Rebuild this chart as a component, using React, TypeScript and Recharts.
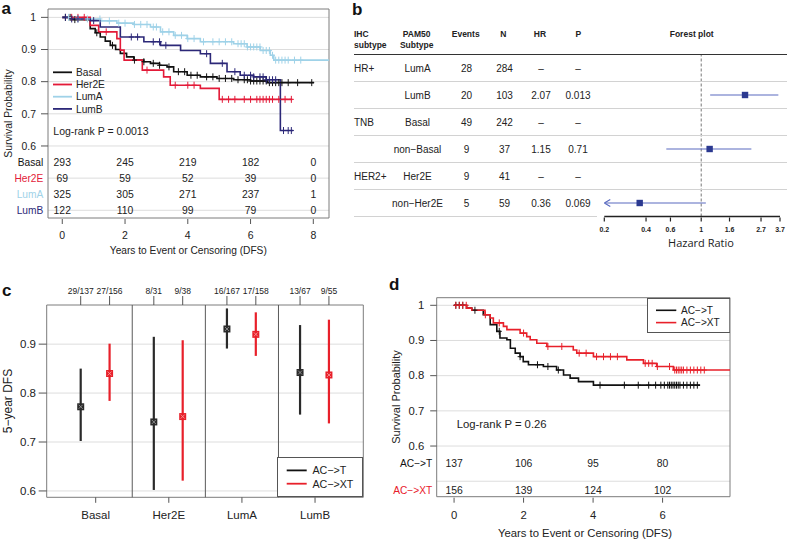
import React from 'react';
import {
  ComposedChart,
  Line,
  Scatter,
  XAxis,
  YAxis,
  CartesianGrid,
  ReferenceArea,
  ReferenceLine,
  ErrorBar,
  Legend,
} from 'recharts';

const FONT = '"Liberation Sans", Arial, Helvetica, sans-serif';
const RED = '#e8202a';
const GRID = '#dddddd';
const FRAME = '#7c7c7c';
const INK = '#222222';

// ---------- panel a : DFS by PAM50 subtype ----------
const aNames = ['Basal', 'Her2E', 'LumA', 'LumB'];
const aColors = ['#111111', '#e31a38', '#9fd2e8', '#2c2878'];

const basalT = [0, 0.3, 0.89, 1.05, 1.21, 1.37, 1.53, 1.7, 1.85, 2.05, 2.28, 2.6, 2.81, 3.1, 3.34, 3.55, 3.98, 4.4, 4.93, 5.46, 6.0, 6.53, 8.02];
const basalS = [1, 0.993, 0.965, 0.952, 0.939, 0.926, 0.913, 0.9, 0.888, 0.877, 0.867, 0.862, 0.857, 0.851, 0.846, 0.831, 0.82, 0.815, 0.81, 0.806, 0.802, 0.797, 0.797];
const basalCens = [0.1, 0.25, 0.4, 1.1, 1.6, 2.3, 2.6, 2.9, 3.1, 3.4, 3.7, 3.9, 4.1, 4.3, 4.6, 4.8, 5.0, 5.2, 5.4, 5.6, 5.8, 5.9, 6.0, 6.1, 6.2, 6.3, 6.4, 6.5, 6.6, 6.7, 6.8, 6.9, 7.0, 7.2, 7.5, 7.95];

const her2eT = [0, 0.89, 1.16, 1.74, 1.85, 1.97, 2.55, 3.23, 3.44, 4.4, 5.0, 7.33];
const her2eS = [1, 0.975, 0.955, 0.934, 0.898, 0.867, 0.836, 0.815, 0.789, 0.779, 0.745, 0.745];
const her2eCens = [0.3, 0.5, 0.7, 1.4, 2.7, 3.6, 4.0, 4.2, 5.1, 5.3, 5.5, 5.8, 6.0, 6.2, 6.3, 6.4, 6.5, 6.6, 6.7, 6.9, 7.1, 7.3];

const lumAT = [0, 0.5, 1.21, 1.74, 2.28, 2.81, 3.13, 3.55, 3.98, 4.4, 5.46, 5.89, 6.31, 6.63, 6.74, 8.5];
const lumAS = [1, 0.995, 0.989, 0.982, 0.978, 0.97, 0.955, 0.944, 0.934, 0.924, 0.918, 0.908, 0.897, 0.882, 0.867, 0.867];
const lumACens = [0.2, 0.5, 0.8, 1.2, 1.5, 1.8, 2.0, 2.3, 2.5, 2.7, 2.9, 3.0, 3.2, 3.4, 3.6, 3.8, 4.0, 4.2, 4.5, 4.8, 5.0, 5.2, 5.4, 5.6, 5.7, 5.8, 5.9, 6.0, 6.1, 6.2, 6.3, 6.4, 6.5, 6.6, 6.7, 6.8, 6.9, 7.0, 7.1, 7.2, 7.4, 7.6];

const lumBT = [0, 0.3, 0.89, 1.21, 1.85, 2.6, 3.13, 3.77, 4.4, 4.72, 5.25, 5.67, 6.1, 6.5, 6.95, 7.36];
const lumBS = [1, 0.995, 0.99, 0.97, 0.939, 0.924, 0.913, 0.897, 0.887, 0.857, 0.831, 0.82, 0.815, 0.806, 0.648, 0.648];
const lumBCens = [0.1, 0.3, 0.5, 1.0, 2.2, 2.4, 2.9, 3.1, 3.3, 4.6, 5.1, 5.5, 5.8, 6.0, 6.1, 6.3, 6.4, 6.5, 6.6, 6.7, 6.8, 7.05, 7.2, 7.3];

const aRiskTimes = [0, 2, 4, 6, 8];
const basalRisk = [293, 245, 219, 182, 0];
const her2eRisk = [69, 59, 52, 39, 0];
const lumARisk = [325, 305, 271, 237, 1];
const lumBRisk = [122, 110, 99, 79, 0];
const aRiskRows = [0.55, 0.5, 0.45, 0.4];
const aYTicks = [1, 0.9, 0.8, 0.7, 0.6];
const aGrid = [1, 0.9, 0.8, 0.7, 0.6, 0.5, 0.4];
const aXTicks = [0, 2, 4, 6, 8];
const aXDom = [-0.455, 8.5];
const aYDom = [0.376, 1.026];

// ---------- panel b : Cox model table ----------
const bIHC = ['HR+', '', 'TNB', '', 'HER2+', ''];
const bPAM50 = ['LumA', 'LumB', 'Basal', 'non\u2212Basal', 'Her2E', 'non\u2212Her2E'];
const bEvents = [28, 20, 49, 9, 9, 5];
const bN = [284, 103, 242, 37, 41, 59];
const bHRText = ['\u2013', '2.07', '\u2013', '1.15', '\u2013', '0.36'];
const bPText = ['\u2013', '0.013', '\u2013', '0.71', '\u2013', '0.069'];
const bHR = [null, 2.07, null, 1.15, null, 0.36];
const bLo = [null, 1.16, null, 0.56, null, 0.2];
const bHi = [null, 3.6, null, 2.3, null, 1.08];
const bClipped = [false, false, false, false, false, true];
const bTicks = [0.2, 0.4, 0.6, 1, 1.6, 2.7, 3.7];

// ---------- panel c : 5-year DFS by arm ----------
const cGroups = ['Basal', 'Her2E', 'LumA', 'LumB'];
const cTMean = [0.772, 0.741, 0.931, 0.842];
const cTLo = [0.702, 0.602, 0.891, 0.756];
const cTHi = [0.85, 0.915, 0.973, 0.939];
const cXTMean = [0.84, 0.752, 0.92, 0.837];
const cXTLo = [0.784, 0.621, 0.876, 0.738];
const cXTHi = [0.901, 0.908, 0.965, 0.95];
const cTCounts = ['29/137', '8/31', '16/167', '13/67'];
const cXTCounts = ['27/156', '9/38', '17/158', '9/55'];
const cYTicks = [0.6, 0.7, 0.8, 0.9];
const cXDom = [0.33, 4.66];
const cYDom = [0.587, 0.98];

// ---------- panel d : DFS by arm ----------
const acTT = [0, 0.36, 0.51, 0.84, 1.04, 1.23, 1.32, 1.52, 1.62, 1.76, 1.9, 1.99, 2.14, 2.57, 2.95, 3.15, 3.34, 3.58, 4.01, 7.08];
const acTS = [1, 0.992, 0.986, 0.973, 0.945, 0.926, 0.907, 0.902, 0.878, 0.864, 0.854, 0.84, 0.831, 0.826, 0.816, 0.802, 0.793, 0.783, 0.773, 0.773];
const acTCens = [0.05, 0.15, 0.25, 0.6, 1.3, 1.9, 2.4, 2.7, 3.0, 4.2, 4.9, 5.3, 5.6, 5.8, 5.95, 6.05, 6.15, 6.2, 6.25, 6.3, 6.35, 6.4, 6.45, 6.5, 6.6, 6.7, 6.8, 6.9, 7.0];
const acXTT = [0, 0.36, 0.51, 0.89, 1.04, 1.13, 1.42, 1.52, 1.9, 2.09, 2.19, 2.38, 2.67, 3.43, 3.53, 4.01, 4.97, 5.45, 5.83, 6.31, 7.94];
const acXTS = [1, 0.992, 0.986, 0.973, 0.964, 0.95, 0.94, 0.931, 0.921, 0.911, 0.902, 0.892, 0.883, 0.873, 0.864, 0.854, 0.845, 0.835, 0.826, 0.816, 0.816];
const acXTCens = [0.05, 0.15, 0.25, 0.35, 0.9, 1.3, 2.0, 2.7, 3.1, 3.6, 3.8, 4.1, 4.3, 4.5, 4.7, 5.5, 5.6, 5.7, 5.85, 6.2, 6.35, 6.4, 6.45, 6.5, 6.55, 6.6, 6.7, 6.8, 6.9, 7.0, 7.1, 7.2];
const dNames = ['AC\u2212>T', 'AC\u2212>XT'];
const dColors = ['#111111', RED];
const dRiskTimes = [0, 2, 4, 6];
const acTRisk = [137, 106, 95, 80];
const acXTRisk = [156, 139, 124, 102];
const dRiskRows = [0.55, 0.475];
const dYTicks = [1, 0.9, 0.8, 0.7, 0.6];
const dGrid = [1, 0.9, 0.8, 0.7, 0.6, 0.5];
const dXTicks = [0, 2, 4, 6];
const dXDom = [-0.5, 7.94];
const dYDom = [0.456, 1.0216];

function stepData(times: number[], surv: number[]) {
  return times.map((t, i) => ({ t, s: surv[i] }));
}

// survival value at each censoring time (value of the step already reached)
function censorData(times: number[], surv: number[], cens: number[]) {
  return cens.map((c) => {
    let s = surv[0];
    times.forEach((t, i) => {
      if (t <= c) s = surv[i];
    });
    return { t: c, s };
  });
}

const plus = (color: string) => (p: any) => (
  <g stroke={color} strokeWidth={1}>
    <line x1={p.cx} x2={p.cx} y1={p.cy - 3.5} y2={p.cy + 3.5} />
    <line x1={p.cx - 2.5} x2={p.cx + 2.5} y1={p.cy} y2={p.cy} />
  </g>
);

const riskText = (p: any) => (
  <text x={p.cx} y={p.cy + 3.7} textAnchor="middle" fontSize={10.4} fill={INK}>
    {p.payload.label}
  </text>
);

const xTick = (fs: number, dy: number, len: number) => (p: any) => (
  <g>
    <line x1={p.x} x2={p.x} y1={p.y + 1} y2={p.y + 1 + len} stroke="#555" />
    <text x={p.x} y={p.y + dy} textAnchor="middle" fontSize={fs} fill={INK}>
      {p.payload.value}
    </text>
  </g>
);

// y ticks with the number-at-risk row names mixed in
const kmYTick = (fs: number, len: number, gap: number, rows: number[], names: string[], colors: string[], rowFs: number, rowGap: number) => (p: any) => {
  const v = p.payload.value;
  const r = rows.indexOf(v);
  if (r >= 0) {
    return (
      <text x={p.x - rowGap} y={p.y + 3.6} textAnchor="end" fontSize={rowFs} fill={colors[r]}>
        {names[r]}
      </text>
    );
  }
  return (
    <g>
      <line x1={p.x - len} x2={p.x} y1={p.y} y2={p.y} stroke="#555" />
      <text x={p.x - gap} y={p.y + 3.8} textAnchor="end" fontSize={fs} fill={INK}>
        {v}
      </text>
    </g>
  );
};

function PanelA() {
  const series = [
    { t: basalT, s: basalS, c: basalCens },
    { t: her2eT, s: her2eS, c: her2eCens },
    { t: lumAT, s: lumAS, c: lumACens },
    { t: lumBT, s: lumBS, c: lumBCens },
  ];
  const risks = [basalRisk, her2eRisk, lumARisk, lumBRisk];
  const riskData = risks.flatMap((row, i) =>
    aRiskTimes.map((t, j) => ({ t, s: aRiskRows[i], label: row[j] }))
  );
  const legend = () => (
    <svg width={70} height={50} fontFamily={FONT}>
      {aNames.map((n, i) => (
        <g key={n}>
          <line x1={1} x2={20} y1={6.3 + i * 12.2} y2={6.3 + i * 12.2} stroke={aColors[i]} strokeWidth={1.8} />
          <text x={24} y={6.3 + i * 12.2 + 3.6} fontSize={10.2} fill={INK}>
            {n}
          </text>
        </g>
      ))}
    </svg>
  );
  return (
    <ComposedChart width={340} height={262} margin={{ top: 9, right: 11, bottom: 0, left: 0 }}>
      <CartesianGrid vertical={false} horizontalValues={aGrid} stroke={GRID} />
      <XAxis
        type="number"
        dataKey="t"
        domain={aXDom}
        allowDataOverflow
        ticks={aXTicks}
        interval={0}
        tickSize={0}
        tickMargin={0}
        axisLine={false}
        tickLine={false}
        tick={xTick(10.5, 20.7, 5)}
        height={44}
      />
      <YAxis
        type="number"
        dataKey="s"
        domain={aYDom}
        allowDataOverflow
        ticks={[...aYTicks, ...aRiskRows]}
        interval={0}
        tickSize={0}
        tickMargin={0}
        axisLine={false}
        tickLine={false}
        tick={kmYTick(10.4, 7, 12, aRiskRows, aNames, aColors, 10.2, 4.7)}
        width={48}
      />
      <ReferenceArea x1={aXDom[0]} x2={aXDom[1]} y1={aYDom[0]} y2={aYDom[1]} fill="none" stroke={FRAME} ifOverflow="visible" />
      {series.map((d, i) => (
        <Line
          key={aNames[i]}
          data={stepData(d.t, d.s)}
          dataKey="s"
          type="stepAfter"
          stroke={aColors[i]}
          strokeWidth={1.6}
          dot={false}
          isAnimationActive={false}
        />
      ))}
      {series.map((d, i) => (
        <Scatter key={aNames[i] + 'c'} data={censorData(d.t, d.s, d.c)} shape={plus(aColors[i])} isAnimationActive={false} />
      ))}
      <Scatter data={riskData} shape={riskText} isAnimationActive={false} />
      <Legend
        layout="horizontal"
        verticalAlign="middle"
        align="center"
        content={legend}
        wrapperStyle={{ left: 52, top: 66, width: 70, height: 50 }}
      />
    </ComposedChart>
  );
}

function PanelBForest() {
  const pts = bHR
    .map((hr, i) => ({ hr, row: i, lo: bLo[i], hi: bHi[i], clip: bClipped[i] }))
    .filter((d) => d.hr !== null)
    .map((d) => ({ x: d.hr as number, row: d.row, err: [(d.hr as number) - (d.lo as number), (d.hi as number) - (d.hr as number)], clip: d.clip, lo: d.lo as number }));
  const arrows = pts.filter((d) => d.clip).map((d) => ({ x: d.lo, row: d.row }));
  const box = (p: any) => <rect x={p.cx - 3.2} y={p.cy - 3.2} width={6.4} height={6.4} fill="#2b3990" />;
  const arrow = (p: any) => (
    <path d={`M${p.cx + 6},${p.cy - 3.5}L${p.cx},${p.cy}L${p.cx + 6},${p.cy + 3.5}`} stroke="#5a6bc0" strokeWidth={1.2} fill="none" />
  );
  const tick = (p: any) => (
    <g>
      <line x1={p.x} x2={p.x} y1={p.y + 1} y2={p.y + 5} stroke="#222" strokeWidth={1.2} />
      <text x={p.x} y={p.y + 15} textAnchor="middle" fontSize={7} fontWeight="bold" fill={INK}>
        {p.payload.value}
      </text>
    </g>
  );
  return (
    <ComposedChart width={227} height={220} margin={{ top: 14.5, right: 7, bottom: 0, left: 44.3 }}>
      <XAxis
        type="number"
        dataKey="x"
        scale="log"
        domain={[bTicks[0], bTicks[bTicks.length - 1]]}
        allowDataOverflow
        ticks={bTicks}
        interval={0}
        tickSize={0}
        tickMargin={0}
        tickLine={false}
        axisLine={{ stroke: '#222', strokeWidth: 1.5 }}
        tick={tick}
        height={43.5}
      />
      <YAxis type="number" dataKey="row" domain={[-0.5, 5.5]} reversed hide allowDataOverflow />
      <ReferenceLine x={1} stroke="#777" strokeDasharray="3 2" />
      <Scatter data={pts} shape={box} isAnimationActive={false}>
        <ErrorBar dataKey="err" direction="x" width={0} stroke="#5a6bc0" strokeWidth={1.2} />
      </Scatter>
      <Scatter data={arrows} shape={arrow} isAnimationActive={false} />
    </ComposedChart>
  );
}

function PanelC() {
  const offT = -0.205;
  const offXT = 0.19;
  const tData = cGroups.map((g, i) => ({ x: i + 1 + offT, y: cTMean[i], err: [cTMean[i] - cTLo[i], cTHi[i] - cTMean[i]] }));
  const xtData = cGroups.map((g, i) => ({ x: i + 1 + offXT, y: cXTMean[i], err: [cXTMean[i] - cXTLo[i], cXTHi[i] - cXTMean[i]] }));
  // event counts shown above the frame, one per arm
  const countData = cGroups.flatMap((g, i) => [
    { x: i + 1 + offT, y: cYDom[1], label: cTCounts[i] },
    { x: i + 1 + offXT, y: cYDom[1], label: cXTCounts[i] },
  ]);
  const mark = (fill: string, inner: string) => (p: any) => (
    <g>
      <rect x={p.cx - 3.5} y={p.cy - 3.5} width={7} height={7} fill={fill} />
      <path
        d={`M${p.cx - 2},${p.cy - 2}L${p.cx + 2},${p.cy + 2}M${p.cx + 2},${p.cy - 2}L${p.cx - 2},${p.cy + 2}`}
        stroke={inner}
        strokeWidth={0.8}
      />
    </g>
  );
  const countMark = (p: any) => (
    <g>
      <line x1={p.cx} x2={p.cx} y1={p.cy - 9} y2={p.cy} stroke="#555" />
      <text x={p.cx} y={p.cy - 11} textAnchor="middle" fontSize={8.5} fill={INK}>
        {p.payload.label}
      </text>
    </g>
  );
  const botTick = (p: any) => (
    <g>
      <line x1={p.x} x2={p.x} y1={p.y} y2={p.y + 5.5} stroke="#555" />
      <text x={p.x} y={p.y + 22} textAnchor="middle" fontSize={11.5} fill={INK}>
        {cGroups[p.payload.value - 1]}
      </text>
    </g>
  );
  const yTick = (p: any) => (
    <g>
      <line x1={p.x - 8} x2={p.x} y1={p.y} y2={p.y} stroke="#555" />
      <text x={p.x - 10.7} y={p.y + 4.1} textAnchor="end" fontSize={11.5} fill={INK}>
        {p.payload.value}
      </text>
    </g>
  );
  const legend = () => (
    <svg width={86} height={40} fontFamily={FONT} style={{ display: 'block', background: '#fff' }}>
      <rect x={0.5} y={0.5} width={85} height={39} fill="#fff" stroke="#555" />
      {dNames.map((n, i) => (
        <g key={n}>
          <line x1={9.7} x2={29.7} y1={13.4 + i * 13.3} y2={13.4 + i * 13.3} stroke={dColors[i]} strokeWidth={1.8} />
          <text x={35.4} y={13.4 + i * 13.3 + 3.8} fontSize={10.7} fill={INK}>
            {n}
          </text>
        </g>
      ))}
    </svg>
  );
  return (
    <ComposedChart width={390} height={261} margin={{ top: 25, right: 26.7, bottom: 0, left: 0 }}>
      <CartesianGrid vertical={false} horizontalValues={cYTicks} stroke={GRID} />
      <XAxis
        type="number"
        dataKey="x"
        domain={cXDom}
        ticks={[1, 2, 3, 4]}
        interval={0}
        tickSize={0}
        tickMargin={0}
        axisLine={false}
        tickLine={false}
        tick={botTick}
        height={43.7}
      />
      <YAxis
        type="number"
        dataKey="y"
        domain={cYDom}
        ticks={cYTicks}
        interval={0}
        tickSize={0}
        tickMargin={0}
        axisLine={false}
        tickLine={false}
        tick={yTick}
        width={46.7}
      />
      {[1.5, 2.5, 3.5].map((x) => (
        <ReferenceLine key={x} x={x} stroke="#5a5a5a" />
      ))}
      <ReferenceArea x1={cXDom[0]} x2={cXDom[1]} y1={cYDom[0]} y2={cYDom[1]} fill="none" stroke={FRAME} ifOverflow="visible" />
      <Scatter data={countData} shape={countMark} isAnimationActive={false} />
      <Scatter data={tData} shape={mark('#2a2a2a', '#a0a0a0')} isAnimationActive={false}>
        <ErrorBar dataKey="err" direction="y" width={0} stroke="#2a2a2a" strokeWidth={2.2} />
      </Scatter>
      <Scatter data={xtData} shape={mark(RED, '#f6a5a5')} isAnimationActive={false}>
        <ErrorBar dataKey="err" direction="y" width={0} stroke={RED} strokeWidth={2.2} />
      </Scatter>
      <Legend
        layout="horizontal"
        verticalAlign="middle"
        align="center"
        content={legend}
        wrapperStyle={{ left: 277.3, top: 177.3, width: 86, height: 40 }}
      />
    </ComposedChart>
  );
}

function PanelD() {
  const series = [
    { t: acTT, s: acTS, c: acTCens },
    { t: acXTT, s: acXTS, c: acXTCens },
  ];
  const risks = [acTRisk, acXTRisk];
  const riskData = risks.flatMap((row, i) =>
    dRiskTimes.map((t, j) => ({ t, s: dRiskRows[i], label: row[j] }))
  );
  const legend = () => (
    <svg width={83.3} height={35} fontFamily={FONT} style={{ display: 'block' }}>
      <rect x={0.5} y={0.5} width={82.3} height={34} fill="#fff" stroke="#555" />
      {dNames.map((n, i) => (
        <g key={n}>
          <line x1={9} x2={29.3} y1={12.3 + i * 12.3} y2={12.3 + i * 12.3} stroke={dColors[i]} strokeWidth={1.6} />
          <text x={34} y={12.3 + i * 12.3 + 3.6} fontSize={10.1} fill={INK}>
            {n}
          </text>
        </g>
      ))}
    </svg>
  );
  return (
    <ComposedChart width={397} height={261} margin={{ top: 17.7, right: 57, bottom: 0, left: 0 }}>
      <CartesianGrid vertical={false} horizontalValues={dGrid} stroke={GRID} />
      <XAxis
        type="number"
        dataKey="t"
        domain={dXDom}
        allowDataOverflow
        ticks={dXTicks}
        interval={0}
        tickSize={0}
        tickMargin={0}
        axisLine={false}
        tickLine={false}
        tick={xTick(11.3, 22.3, 5)}
        height={44.3}
      />
      <YAxis
        type="number"
        dataKey="s"
        domain={dYDom}
        allowDataOverflow
        ticks={[...dYTicks, ...dRiskRows]}
        interval={0}
        tickSize={0}
        tickMargin={0}
        axisLine={false}
        tickLine={false}
        tick={kmYTick(11.3, 6.5, 12.4, dRiskRows, dNames, dColors, 10.2, 4.4)}
        width={46.7}
      />
      <ReferenceArea x1={dXDom[0]} x2={dXDom[1]} y1={dYDom[0]} y2={dYDom[1]} fill="none" stroke={FRAME} ifOverflow="visible" />
      {series.map((d, i) => (
        <Line
          key={dNames[i]}
          data={stepData(d.t, d.s)}
          dataKey="s"
          type="stepAfter"
          stroke={dColors[i]}
          strokeWidth={1.6}
          dot={false}
          isAnimationActive={false}
        />
      ))}
      {series.map((d, i) => (
        <Scatter key={dNames[i] + 'c'} data={censorData(d.t, d.s, d.c)} shape={plus(dColors[i])} isAnimationActive={false} />
      ))}
      <Scatter data={riskData} shape={riskText} isAnimationActive={false} />
      <Legend
        layout="horizontal"
        verticalAlign="middle"
        align="center"
        content={legend}
        wrapperStyle={{ left: 256.7, top: 17.7, width: 83.3, height: 35 }}
      />
    </ComposedChart>
  );
}

function Overlay() {
  const rowY = (i: number) => 68 + i * 27;
  const lineYs = [81.5, 108.5, 135.5, 162.5, 189.5];
  return (
    <svg
      width={787}
      height={541}
      fontFamily={FONT}
      style={{ position: 'absolute', left: 0, top: 0, pointerEvents: 'none' }}
    >
      <g fontSize={17} fontWeight="bold" fill="#111">
        <text x={1.5} y={13.5}>a</text>
        <text x={352} y={15}>b</text>
        <text x={2} y={296}>c</text>
        <text x={389} y={290}>d</text>
      </g>

      {/* axis titles */}
      <text x={188.3} y={253.6} textAnchor="middle" fontSize={10.2} fill={INK}>
        Years to Event or Censoring (DFS)
      </text>
      <text x={8.5} y={113.5} transform="rotate(-90 8.5 113.5)" textAnchor="middle" dominantBaseline="central" fontSize={10.4} fill={INK}>
        Survival Probability
      </text>
      <text x={7.5} y={401} transform="rotate(-90 7.5 401)" textAnchor="middle" dominantBaseline="central" fontSize={12} fill={INK}>
        5{'\u2212'}year DFS
      </text>
      <text x={585} y={537.3} textAnchor="middle" fontSize={11.3} fill={INK}>
        Years to Event or Censoring (DFS)
      </text>
      <text x={395.5} y={397} transform="rotate(-90 395.5 397)" textAnchor="middle" dominantBaseline="central" fontSize={11} fill={INK}>
        Survival Probability
      </text>
      <text x={53.3} y={135.3} fontSize={10.5} fill={INK}>
        Log-rank P = 0.0013
      </text>
      <text x={456.7} y={428} fontSize={11.3} fill={INK}>
        Log-rank P = 0.26
      </text>
      <text x={701} y={247} textAnchor="middle" fontSize={11} fontFamily='"Open Sans", "DejaVu Sans", sans-serif' fill={INK}>
        Hazard Ratio
      </text>

      {/* table b */}
      <g fontSize={8.5} fontWeight="bold" fill={INK}>
        <text x={354} y={37.3}>IHC</text>
        <text x={354} y={47.5}>subtype</text>
        <text x={416.7} y={37.3} textAnchor="middle">PAM50</text>
        <text x={416.7} y={47.5} textAnchor="middle">Subtype</text>
        <text x={465.7} y={37.3} textAnchor="middle">Events</text>
        <text x={503.3} y={37.3} textAnchor="middle">N</text>
        <text x={540} y={37.3} textAnchor="middle">HR</text>
        <text x={578.3} y={37.3} textAnchor="middle">P</text>
        <text x={691.7} y={37.3} textAnchor="middle">Forest plot</text>
      </g>
      <line x1={354} x2={787} y1={54.5} y2={54.5} stroke="#333" strokeWidth={1.2} />
      {lineYs.map((y) => (
        <line key={y} x1={354} x2={787} y1={y} y2={y} stroke="#d2d2d2" />
      ))}
      <line x1={354} x2={597} y1={216.5} y2={216.5} stroke="#d2d2d2" />
      <g fontSize={10} fill={INK}>
        {bPAM50.map((name, i) => (
          <g key={name}>
            <text x={354} y={rowY(i) + 3.6}>{bIHC[i]}</text>
            <text x={417.5} y={rowY(i) + 3.6} textAnchor="middle">{name}</text>
            <text x={466.5} y={rowY(i) + 3.6} textAnchor="middle">{bEvents[i]}</text>
            <text x={504.5} y={rowY(i) + 3.6} textAnchor="middle">{bN[i]}</text>
            <text x={541} y={rowY(i) + 3.6} textAnchor="middle">{bHRText[i]}</text>
            <text x={578} y={rowY(i) + 3.6} textAnchor="middle">{bPText[i]}</text>
          </g>
        ))}
      </g>
    </svg>
  );
}

export default function App() {
  return (
    <div style={{ position: 'absolute', left: 0, top: 0, width: 787, height: 541, background: '#fff', fontFamily: FONT }}>
      <div style={{ position: 'absolute', left: 0, top: 0 }}>
        <PanelA />
      </div>
      <div style={{ position: 'absolute', left: 560, top: 40 }}>
        <PanelBForest />
      </div>
      <div style={{ position: 'absolute', left: 0, top: 280 }}>
        <PanelC />
      </div>
      <div style={{ position: 'absolute', left: 390, top: 280 }}>
        <PanelD />
      </div>
      <Overlay />
    </div>
  );
}
